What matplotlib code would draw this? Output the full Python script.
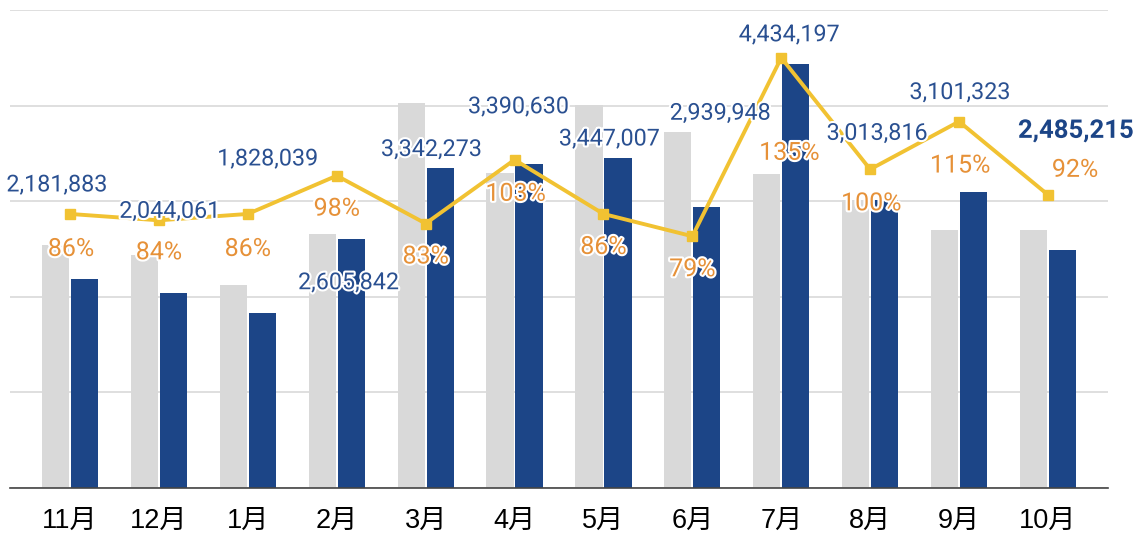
import matplotlib
matplotlib.use("Agg")
import matplotlib.pyplot as plt
import matplotlib.patheffects as pe
import numpy as np

plt.rcParams['font.family'] = ['Roboto', 'Noto Sans CJK JP', 'DejaVu Sans']

# data
months = ['11月', '12月', '1月', '2月', '3月', '4月', '5月', '6月', '7月', '8月', '9月', '10月']
this_year = [2181883, 2044061, 1828039, 2605842, 3342273, 3390630,
             3447007, 2939948, 4434197, 3013816, 3101323, 2485215]
last_year = [2537000, 2433000, 2126000, 2659000, 4027000, 3292000,
             4008000, 3721000, 3285000, 3014000, 2697000, 2701000]
ratio = [0.86, 0.84, 0.86, 0.98, 0.83, 1.03, 0.86, 0.79, 1.35, 1.00, 1.15, 0.92]
ratio_labels = ['86%', '84%', '86%', '98%', '83%', '103%', '86%', '79%', '135%', '100%', '115%', '92%']

# label offsets from the line point, in pixels (dx, dy)
num_offsets = [(-13, 29), (11, 9), (20, 55), (12, -107), (6, 74), (4, 53),
               (6, 75), (28, 123), (8, 23), (7, 36), (1, 29), (28, 64)]
pct_offsets = [(1, -35), (0, -32), (0, -35), (0, -33), (0, -33), (1, -34),
               (0, -33), (0, -33), (8, -95), (1, -34), (1, -44), (27, 25)]

GREY = '#D9D9D9'
BLUE = '#1C4587'
LABEL_BLUE = '#2A5091'
ORANGE = '#E69138'
YELLOW = '#F1C232'

fig = plt.figure(figsize=(11.38, 5.33), dpi=100)
ax = fig.add_axes([10 / 1138, 45 / 533, 1098 / 1138, 478 / 533])
x = np.arange(len(months))
w = 0.305
ax.bar(x - 0.163, last_year, w, color=GREY, zorder=2)
ax.bar(x + 0.163, this_year, w, color=BLUE, zorder=2)

ax.set_ylim(0, 5000000)
ax.set_yticks(np.arange(0, 5000001, 1000000))
ax.set_yticklabels([])
ax.tick_params(axis='y', length=0)
ax.grid(axis='y', color='#DCDCDC', linewidth=1.3, zorder=0)
ax.set_xlim(-0.675, 11.675)
ax.set_xticks(x)
ax.set_xticklabels(months, fontsize=19.5, family=['Liberation Sans', 'Noto Sans CJK JP'], color='black')
ax.tick_params(axis='x', length=0, pad=14)
for s in ['top', 'right', 'left']:
    ax.spines[s].set_visible(False)
ax.spines['bottom'].set_color('#444444')
ax.spines['bottom'].set_linewidth(1.2)
ax.spines['bottom'].set_zorder(3)

ax2 = ax.twinx()
ax2.set_ylim(0, 1.5)
ax2.axis('off')
ax2.plot(x, ratio, color=YELLOW, linewidth=2.8, marker='s', markersize=7.5, zorder=3)

halo = [pe.withStroke(linewidth=3, foreground='white')]
for i in range(len(months)):
    bold = i == len(months) - 1
    ax2.annotate(f'{this_year[i]:,}', (x[i], ratio[i]), xytext=num_offsets[i],
                 textcoords='offset pixels', ha='center', va='center',
                 fontsize=18.5 if bold else 16.8, fontweight='bold' if bold else 'normal',
                 color=BLUE if bold else LABEL_BLUE, path_effects=halo, zorder=5)
    ax2.annotate(ratio_labels[i], (x[i], ratio[i]), xytext=pct_offsets[i],
                 textcoords='offset pixels', ha='center', va='center',
                 fontsize=18, color=ORANGE, path_effects=halo, zorder=5)

fig.savefig('out.png', dpi=100)
